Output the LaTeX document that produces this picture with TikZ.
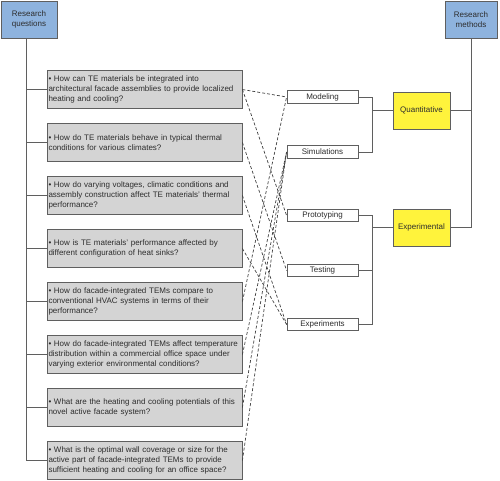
\documentclass[tikz,border=0pt]{standalone}
\usepackage{fontspec}
\setmainfont{Liberation Sans}
\usepackage{xcolor}
\definecolor{headblue}{RGB}{142,179,222}
\definecolor{groupyellow}{RGB}{255,243,60}
\definecolor{quesgray}{RGB}{212,212,212}
\definecolor{linegray}{RGB}{95,95,95}
\definecolor{textgray}{RGB}{45,45,45}

\begin{document}
\begin{tikzpicture}
		[x=1pt,y=-1pt,
		every node/.style={font=\fontsize{8}{9.6}\selectfont,text=textgray},
		headbox/.style={rectangle,draw=linegray,fill=headblue,line width=0.8pt,
inner sep=0pt,minimum height=37pt,align=center},
		groupbox/.style={rectangle,draw=linegray,fill=groupyellow,line width=0.8pt,
inner sep=0pt,minimum width=57pt,minimum height=37pt},
		methodbox/.style={rectangle,draw=linegray,fill=white,line width=0.8pt,
inner sep=0pt,minimum width=71pt,minimum height=12.5pt},
		question/.style={rectangle,draw=linegray,fill=quesgray,line width=0.8pt,
inner xsep=1.5pt,inner ysep=0pt,text width=192pt,minimum height=37.5pt,align=left},
		tree/.style={-,draw=linegray,line width=0.8pt},
		dashlink/.style={-,draw=black!75,line width=0.7pt,dash pattern=on 3pt off 2pt}]
		\useasboundingbox (0,0) rectangle (500,480);
		% headers
		\node at (29,19.5) (rq) [headbox,minimum width=56pt] {Research\\questions};
		\node at (471,19.5) (rm) [headbox,minimum width=52pt] {Research\\methods};
		% method groups
		\node at (421.5,110.5) (quant) [groupbox] {Quantitative};
		\node at (421.5,227.5) (expl) [groupbox] {Experimental};
		\node at (322.5,97) (mod) [methodbox] {Modeling};
		\node at (322.5,152) (sim) [methodbox] {Simulations};
		\node at (322.5,215.5) (proto) [methodbox] {Prototyping};
		\node at (322.5,270.5) (test) [methodbox] {Testing};
		\node at (322.5,324.5) (exper) [methodbox] {Experiments};
		% questions
		\node at (144.5,89.5) (q1) [question] {• How can TE materials be integrated into\\
architectural facade assemblies to provide localized\\heating and cooling?};
		\node at (144.5,142.5) (q2) [question] {• How do TE materials behave in typical thermal\\
conditions for various climates?};
		\node at (144.5,195.5) (q3) [question] {• How do varying voltages, climatic conditions and\\
assembly construction affect TE materials’ thermal\\performance?};
		\node at (144.5,248.5) (q4) [question] {• How is TE materials’ performance affected by\\
different configuration of heat sinks?};
		\node at (144.5,301.5) (q5) [question] {• How do facade-integrated TEMs compare to\\
conventional HVAC systems in terms of their\\performance?};
		\node at (144.5,354.5) (q6) [question] {• How do facade-integrated TEMs affect temperature\\
distribution within a commercial office space under\\varying exterior environmental conditions?};
		\node at (144.5,407.5) (q7) [question] {• What are the heating and cooling potentials of this\\
novel active facade system?};
		\node at (144.5,460.5) (q8) [question] {• What is the optimal wall coverage or size for the\\
active part of facade-integrated TEMs to provide\\sufficient heating and cooling for an office space?};
		% questions to methods
		\draw [dashlink] (q1.east) -- (mod.west);
		\draw [dashlink] (q1.east) -- (proto.west);
		\draw [dashlink] (q2.east) -- (test.west);
		\draw [dashlink] (q3.east) -- (exper.west);
		\draw [dashlink] (q4.east) -- (exper.west);
		\draw [dashlink] (q5.east) -- (mod.west);
		\draw [dashlink] (q6.east) -- (sim.west);
		\draw [dashlink] (q7.east) -- (sim.west);
		\draw [dashlink] (q8.east) -- (sim.west);
		% left tree
		\draw [tree] ([xshift=-3pt]rq.south) |- (q1.west);
		\draw [tree] ([xshift=-3pt]rq.south) |- (q2.west);
		\draw [tree] ([xshift=-3pt]rq.south) |- (q3.west);
		\draw [tree] ([xshift=-3pt]rq.south) |- (q4.west);
		\draw [tree] ([xshift=-3pt]rq.south) |- (q5.west);
		\draw [tree] ([xshift=-3pt]rq.south) |- (q6.west);
		\draw [tree] ([xshift=-3pt]rq.south) |- (q7.west);
		\draw [tree] ([xshift=-3pt]rq.south) |- (q8.west);
		% brackets
		\draw [tree] (mod.east) -| ([xshift=-20pt]quant.west) -- (quant.west);
		\draw [tree] (sim.east) -| ([xshift=-20pt]quant.west);
		\draw [tree] (proto.east) -| ([xshift=-20pt]expl.west) -- (expl.west);
		\draw [tree] (test.east) -- ([xshift=-20pt]test.east -| expl.west);
		\draw [tree] (exper.east) -| ([xshift=-20pt]expl.west);
		% right tree
		\draw [tree] (rm.south) |- (quant.east);
		\draw [tree] (rm.south) |- (expl.east);
	\end{tikzpicture}
\end{document}
